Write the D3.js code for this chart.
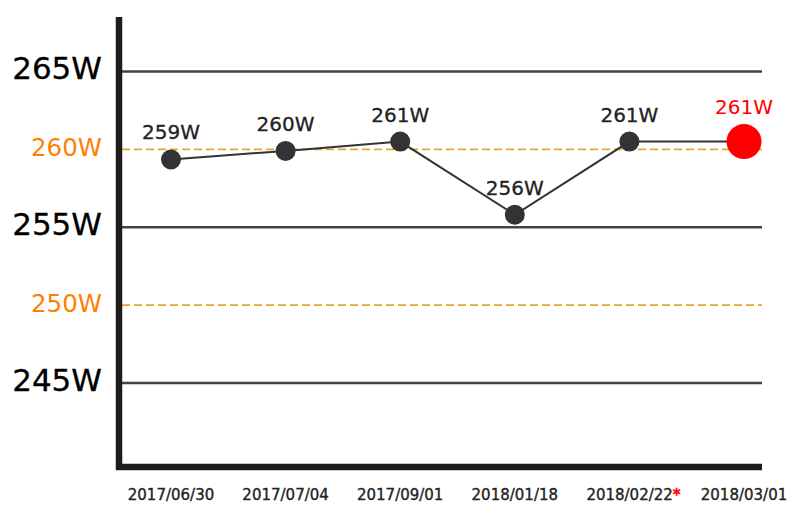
<!DOCTYPE html>
<html>
<head>
<meta charset="utf-8">
<script src="https://cdn.jsdelivr.net/npm/d3@7"></script>
<style>
  html, body { margin: 0; padding: 0; background: #fff; }
  svg { display: block; font-family: "DejaVu Sans", Verdana, sans-serif; }
</style>
</head>
<body>
<svg id="chart" width="800" height="530"></svg>
<script>
const dates = ["2017/06/30", "2017/07/04", "2017/09/01", "2018/01/18", "2018/02/22", "2018/03/01"];
const values = [259.35, 259.9, 260.5, 255.8, 260.5, 260.5];
const markedDates = ["2018/02/22"];
const solidTicks = [245, 255, 265];
const dashedTicks = [250, 260];

const svg = d3.select("#chart");

const x = d3.scalePoint().domain(dates).range([171, 744]);
const y = d3.scaleLinear().domain([239.6, 268.5]).range([467, 17]);

const gridLeft = 122, gridRight = 762;

// solid grid lines
svg.append("g").selectAll("line").data(solidTicks).join("line")
  .attr("x1", gridLeft).attr("x2", gridRight)
  .attr("y1", d => y(d)).attr("y2", d => y(d))
  .attr("stroke", "#444").attr("stroke-width", 2.5);

// dashed grid lines
svg.append("g").selectAll("line").data(dashedTicks).join("line")
  .attr("x1", gridLeft).attr("x2", gridRight)
  .attr("y1", d => y(d)).attr("y2", d => y(d))
  .attr("stroke", "#E0A92A").attr("stroke-width", 1.8)
  .attr("stroke-dasharray", "8,4");

// y labels
svg.append("g").selectAll("text").data(solidTicks).join("text")
  .attr("x", 102).attr("y", d => y(d) + 8)
  .attr("text-anchor", "end")
  .attr("font-size", 31).attr("fill", "#000")
  .attr("stroke", "#000").attr("stroke-width", 0.3)
  .text(d => d + "W");
svg.append("g").selectAll("text").data(dashedTicks).join("text")
  .attr("x", 102).attr("y", d => y(d) + 7)
  .attr("text-anchor", "end")
  .attr("font-size", 24.5).attr("fill", "#FF8000")
  .text(d => d + "W");

// axes
const defs = svg.append("defs");
const f = defs.append("filter").attr("id", "soft")
  .attr("filterUnits", "userSpaceOnUse")
  .attr("x", 0).attr("y", 0).attr("width", 800).attr("height", 530);
f.append("feGaussianBlur").attr("stdDeviation", 0.6);

const [yBottom, yTop] = y.range();
const axes = svg.append("g").attr("filter", "url(#soft)");
axes.append("line")
  .attr("x1", 119).attr("x2", 119)
  .attr("y1", yTop).attr("y2", yBottom + 3)
  .attr("stroke", "#1a1a1a").attr("stroke-width", 6.5);
axes.append("line")
  .attr("x1", 116).attr("x2", gridRight)
  .attr("y1", yBottom).attr("y2", yBottom)
  .attr("stroke", "#1a1a1a").attr("stroke-width", 6.5);

// x labels
const xl = svg.append("g").selectAll("text").data(dates).join("text")
  .attr("x", d => x(d)).attr("y", 500)
  .attr("text-anchor", "middle")
  .attr("font-size", 15).attr("fill", "#222")
  .attr("stroke", "#222").attr("stroke-width", 0.35);
xl.append("tspan").text(d => d);
xl.filter(d => markedDates.includes(d)).append("tspan")
  .attr("fill", "#ff0000").attr("stroke", "#ff0000").attr("font-weight", "bold").text("*");
xl.filter(d => markedDates.includes(d)).attr("text-anchor", "start")
  .attr("x", function(d) { return x(d) - 43; });

// line
const pts = dates.map((d, i) => [x(d), y(values[i])]);
svg.append("path")
  .attr("d", d3.line()(pts))
  .attr("fill", "none").attr("stroke", "#333").attr("stroke-width", 2);

const last = dates.length - 1;
// points
svg.append("g").selectAll("circle").data(dates.slice(0, last)).join("circle")
  .attr("cx", d => x(d)).attr("cy", (d, i) => y(values[i]))
  .attr("r", 10).attr("fill", "#333");
svg.append("circle")
  .attr("cx", x(dates[last])).attr("cy", y(values[last]))
  .attr("r", 17.5).attr("fill", "#ff0000");

// value labels
svg.append("g").selectAll("text").data(dates.slice(0, last)).join("text")
  .attr("x", d => x(d)).attr("y", (d, i) => y(values[i]) - 20)
  .attr("text-anchor", "middle").attr("font-size", 20).attr("fill", "#222")
  .attr("stroke", "#222").attr("stroke-width", 0.3)
  .text((d, i) => Math.round(values[i]) + "W");
svg.append("text")
  .attr("x", x(dates[last])).attr("y", y(values[last]) - 28)
  .attr("text-anchor", "middle").attr("font-size", 20).attr("fill", "#ff0000")
  .text(Math.round(values[last]) + "W");
</script>
</body>
</html>
